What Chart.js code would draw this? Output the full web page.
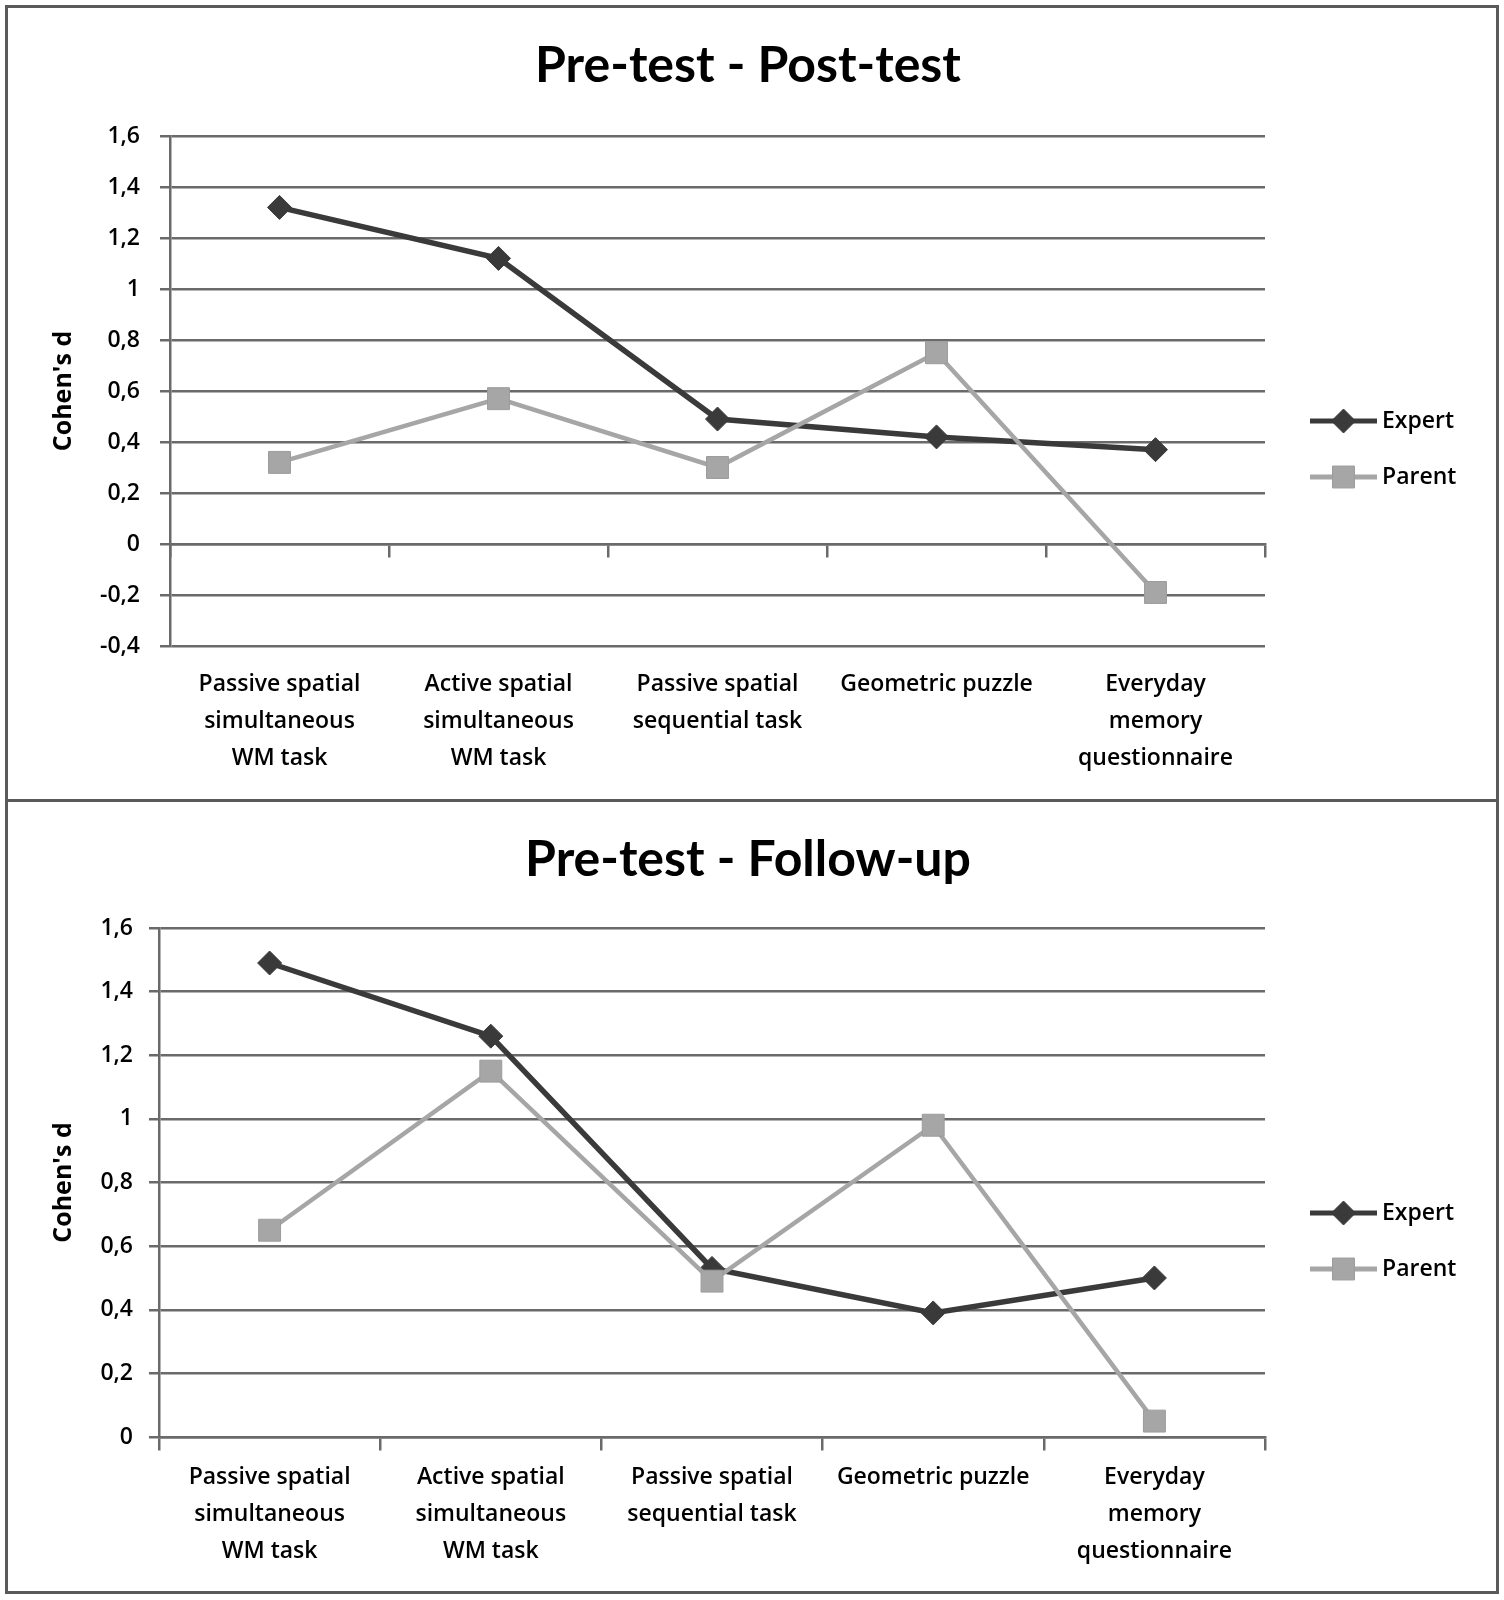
<!DOCTYPE html>
<html>
<head>
<meta charset="utf-8">
<title>Cohen's d - Expert / Parent</title>
<script src="https://cdn.jsdelivr.net/npm/chart.js@4.4.1/dist/chart.umd.min.js"></script>
<style>
  body { margin: 0; background: #fff; }
  #page { position: relative; width: 1504px; height: 1600px; }
  .panel { position: absolute; left: 0; width: 1504px; height: 800px; }
  .frame { position: absolute; left: 5px; top: 5px; width: 1494px; height: 1589px;
           border: 3px solid #5a5a5a; box-sizing: border-box; pointer-events: none; }
  .divider { position: absolute; left: 5px; top: 799px; width: 1494px; height: 3px;
             background: #5a5a5a; pointer-events: none; }
</style>
</head>
<body>
<div id="page">
  <div class="panel" style="top:0"><canvas id="post"></canvas></div>
  <div class="panel" style="top:800px"><canvas id="follow"></canvas></div>
  <div class="frame"></div>
  <div class="divider"></div>
</div>
<script>
const categories = [
  ["Passive spatial", "simultaneous", "WM task"],
  ["Active spatial", "simultaneous", "WM task"],
  ["Passive spatial", "sequential task"],
  ["Geometric puzzle"],
  ["Everyday", "memory", "questionnaire"],
];
const seriesNames = ["Expert", "Parent"];
const titles = ["Pre-test - Post-test", "Pre-test - Follow-up"];
const axisTitle = "Cohen's d";

// Pre-test - Post-test
const postExpert = [1.32, 1.12, 0.49, 0.42, 0.37];
const postParent = [0.32, 0.57, 0.30, 0.75, -0.19];
const postRange = [-0.4, 1.6];

// Pre-test - Follow-up
const followExpert = [1.49, 1.26, 0.53, 0.39, 0.50];
const followParent = [0.65, 1.15, 0.49, 0.98, 0.05];
const followRange = [0, 1.6];

const tickStep = 0.2;

const EXPERT = "#3a3a3a";
const PARENT = "#a6a6a6";
const GRID = "#6a6a6a";
const LABEL_FONT = "'Open Sans', 'DejaVu Sans', sans-serif";

const formatTick = (v) => String(Math.round(v * 10) / 10).replace(".", ",");

// legend at the right of the plot: line with the marker in its middle
const sideLegend = {
  id: "sideLegend",
  afterDraw(chart, args, opts) {
    const ctx = chart.ctx;
    const top = chart.chartArea.top + opts.dy;
    chart.data.datasets.forEach((ds, i) => {
      const y = top + i * opts.gap;
      const cx = opts.x + opts.len / 2;
      ctx.save();
      ctx.strokeStyle = ds.borderColor;
      ctx.lineWidth = 5;
      ctx.beginPath();
      ctx.moveTo(opts.x, y);
      ctx.lineTo(opts.x + opts.len, y);
      ctx.stroke();
      ctx.fillStyle = ds.pointBackgroundColor;
      ctx.strokeStyle = ds.pointBorderColor;
      ctx.lineWidth = 1;
      ctx.beginPath();
      if (ds.pointStyle === "rectRot") {
        const r = ds.pointRadius;
        ctx.moveTo(cx, y - r);
        ctx.lineTo(cx + r, y);
        ctx.lineTo(cx, y + r);
        ctx.lineTo(cx - r, y);
        ctx.closePath();
      } else {
        const h = ds.pointRadius * Math.SQRT1_2;
        ctx.rect(cx - h, y - h, 2 * h, 2 * h);
      }
      ctx.fill();
      ctx.stroke();
      ctx.fillStyle = "#000";
      ctx.font = "600 23px " + LABEL_FONT;
      ctx.textBaseline = "middle";
      ctx.textAlign = "left";
      ctx.fillText(ds.label, opts.x + opts.len + 5, y);
      ctx.restore();
    });
  },
};

const makeChart = (id, titleText, expert, parent, range, geo) => {
  return new Chart(document.getElementById(id), {
    type: "line",
    data: {
      labels: categories,
      datasets: [
        {
          label: seriesNames[0],
          data: expert,
          borderColor: EXPERT,
          backgroundColor: EXPERT,
          borderWidth: 5.5,
          pointStyle: "rectRot",
          pointRadius: 12,
          pointBackgroundColor: EXPERT,
          pointBorderColor: EXPERT,
          pointBorderWidth: 1,
          tension: 0,
          order: 1,
        },
        {
          label: seriesNames[1],
          data: parent,
          borderColor: PARENT,
          backgroundColor: PARENT,
          borderWidth: 4.5,
          pointStyle: "rect",
          pointRadius: 15.5,
          pointBackgroundColor: PARENT,
          pointBorderColor: "#9c9c9c",
          pointBorderWidth: 1,
          tension: 0,
          order: 0,
        },
      ],
    },
    options: {
      responsive: true,
      maintainAspectRatio: false,
      animation: false,
      layout: { padding: { top: 0, right: 8, bottom: 0, left: 0 } },
      plugins: {
        legend: { display: false },
        tooltip: { enabled: false },
        title: {
          display: true,
          text: titleText,
          color: "#000",
          font: { family: "Lato, 'Open Sans', sans-serif", weight: "bold", size: 50, lineHeight: 1.2 },
          padding: { top: geo.titleTop, bottom: geo.titleBottom },
        },
        sideLegend: { x: 1310, len: 67, dy: 285, gap: 56 },
      },
      scales: {
        x: {
          type: "category",
          offset: true,
          grid: { display: false, drawTicks: false },
          border: { display: false },
          ticks: {
            autoSkip: false,
            maxRotation: 0,
            color: "#000",
            padding: geo.labelPad,
            font: { family: LABEL_FONT, weight: "600", size: 23, lineHeight: 1.6 },
          },
          afterFit: (s) => { s.height = geo.xHeight; },
        },
        x2: {
          type: "category",
          labels: categories,
          offset: true,
          position: { y: 0 },
          grid: { offset: true, drawOnChartArea: false, drawTicks: true, tickLength: 12, color: GRID, lineWidth: 2.5 },
          border: { display: true, color: GRID, width: 2.5 },
          ticks: { display: false },
        },
        y: {
          min: range[0],
          max: range[1],
          grid: { color: GRID, lineWidth: 2.5, tickLength: 10 },
          border: { color: GRID, width: 2.5 },
          ticks: {
            stepSize: tickStep,
            callback: formatTick,
            color: "#000",
            padding: geo.tickPad,
            font: { family: LABEL_FONT, weight: "600", size: 23 },
          },
          title: {
            display: true,
            text: axisTitle,
            color: "#000",
            font: { family: LABEL_FONT, weight: "bold", size: 25, lineHeight: 1.2 },
            padding: { top: 49, bottom: 0 },
          },
          afterFit: (s) => { s.width = geo.yWidth; },
        },
        yR: {
          position: "right",
          display: true,
          grid: { display: false },
          border: { display: false },
          ticks: { display: false },
          afterFit: (s) => { s.width = 231; },
        },
      },
    },
    plugins: [sideLegend],
  });
};

const draw = () => {
  makeChart("post", titles[0], postExpert, postParent, postRange,
    { titleTop: 36, titleBottom: 40, xHeight: 154, yWidth: 170, tickPad: 20, labelPad: 20 });
  makeChart("follow", titles[1], followExpert, followParent, followRange,
    { titleTop: 30, titleBottom: 38, xHeight: 163, yWidth: 159, tickPad: 16, labelPad: 22 });
};

Promise.all([
  document.fonts.load("bold 50px Lato"),
  document.fonts.load("600 23px 'Open Sans'"),
  document.fonts.load("bold 25px 'Open Sans'"),
]).then(draw, draw);
</script>
</body>
</html>
